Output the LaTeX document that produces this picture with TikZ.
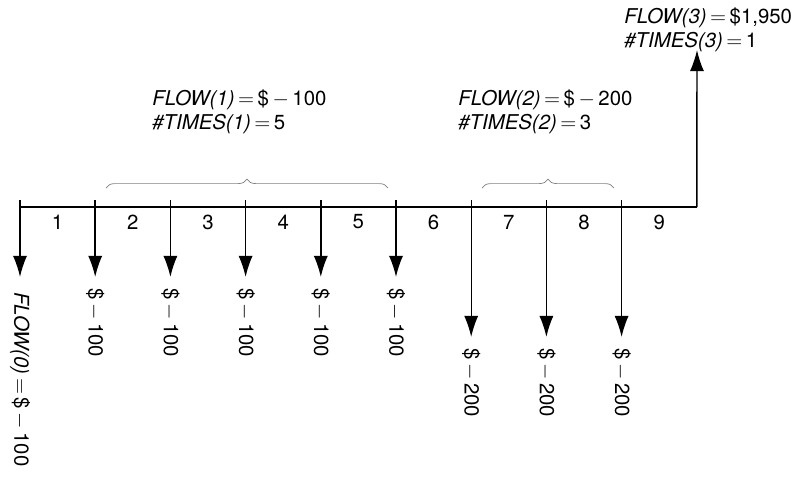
\documentclass[tikz,border=0pt]{standalone}
\usepackage{fontspec}
\setmainfont{TeX Gyre Heros}
\usetikzlibrary{decorations.pathreplacing,arrows.meta}
\begin{document}
\begin{tikzpicture}[x=0.02cm,y=-0.02cm,
    txt/.style={font=\fontsize{11.6}{14}\selectfont,inner sep=0pt},
    flow/.style={thick,-{Latex[length=12pt,width=8pt]}},
    lbl/.style={txt,rotate=-90,anchor=west},
    grp/.style={gray,decorate,decoration={brace,amplitude=5pt}},
  ]
    \useasboundingbox (0,0) rectangle (795,487);

    % time line
    \foreach \i in {0,...,9}
      \coordinate (t\i) at (20+75.2*\i,207);
    \draw[thick] (t0) -- (t9);
    \foreach \i in {0,...,8}
      \draw[thick] (t\i) -- ++(0,-7);
    \foreach \i in {1,...,9}
      \node[txt] (n\i) at (20+75.2*\i-37.6,222) {\i};

    % outflows
    \foreach \i in {0,...,5} {
      \coordinate (e\i) at (20+75.2*\i,277);
      \draw[flow] (t\i) ++(0,-7) -- (e\i);
    }
    \foreach \i in {6,7,8} {
      \coordinate (e\i) at (20+75.2*\i,337);
      \draw[flow] (t\i) ++(0,-7) -- (e\i);
    }
    \node[lbl] (f0) at (20,292) {\textit{FLOW(0)}$\,=\,$\$$\,-\,$100};
    \foreach \i in {1,...,5}
      \node[lbl] (f\i) at (20+75.2*\i,288) {\$$\,-\,$100};
    \foreach \i in {6,7,8}
      \node[lbl] (f\i) at (20+75.2*\i,348) {\$$\,-\,$200};

    % inflow
    \coordinate (e9) at (697,50);
    \draw[flow] (t9) -- (e9);
    \node[txt,anchor=west] (top1) at (624,18) {\textit{FLOW(3)}$\,=\,$\$1,950};
    \node[txt,anchor=west] (top2) at (624,42) {\textit{\#TIMES(3)}$\,=\,$1};

    % groups
    \draw[grp] (106,188) -- (388,188);
    \node[txt,anchor=west] (g1a) at (152,100) {\textit{FLOW(1)}$\,=\,$\$$\,-\,$100};
    \node[txt,anchor=west] (g1b) at (152,124) {\textit{\#TIMES(1)}$\,=\,$5};
    \draw[grp] (482,188) -- (614,188);
    \node[txt,anchor=west] (g2a) at (458,100) {\textit{FLOW(2)}$\,=\,$\$$\,-\,$200};
    \node[txt,anchor=west] (g2b) at (458,124) {\textit{\#TIMES(2)}$\,=\,$3};
\end{tikzpicture}
\end{document}
